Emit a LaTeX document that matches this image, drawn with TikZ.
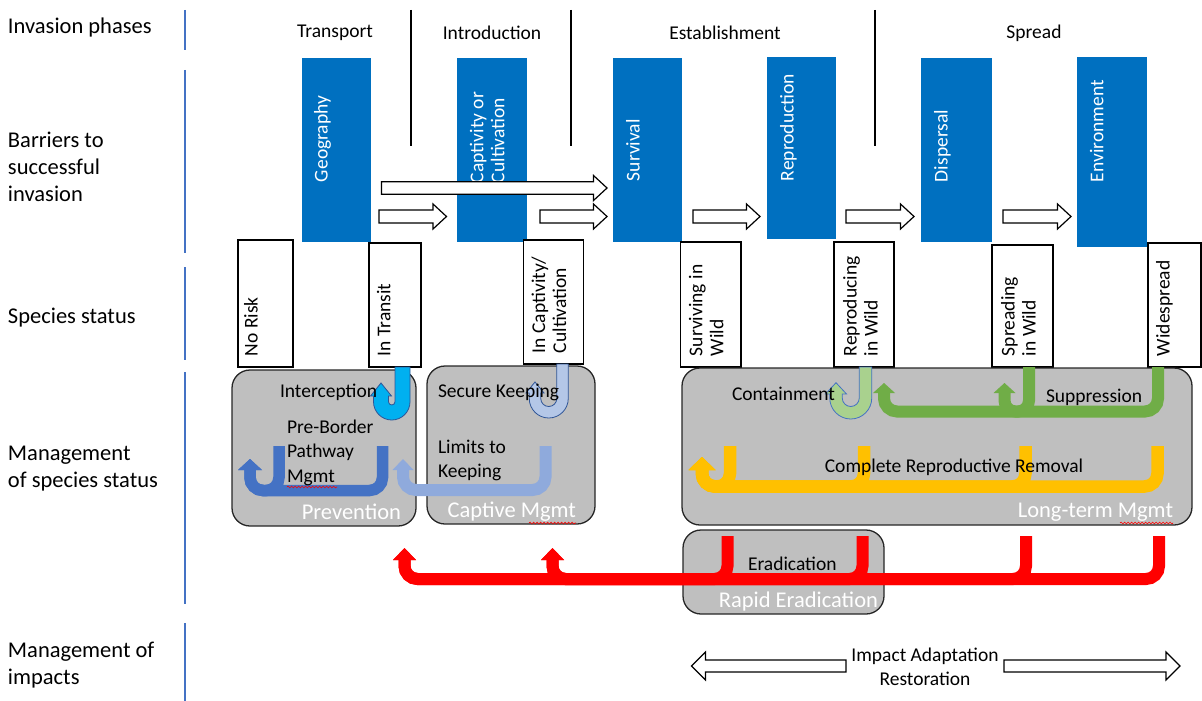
\documentclass[tikz,border=0pt]{standalone}
\usepackage{fontspec}
\setmainfont{Carlito}
\usetikzlibrary{arrows.meta,decorations.pathmorphing}
\definecolor{barblue}{HTML}{0070C0}
\definecolor{lineblue}{HTML}{4472C4}
\definecolor{mgray}{HTML}{BFBFBF}
\definecolor{cyanb}{HTML}{00B0F0}
\definecolor{dblue}{HTML}{4472C4}
\definecolor{pblue}{HTML}{8FAADC}
\definecolor{sblue}{HTML}{B4C7E7}
\definecolor{lgreen}{HTML}{A9D18E}
\definecolor{ggreen}{HTML}{70AD47}
\definecolor{yel}{HTML}{FFC000}
\definecolor{outl}{HTML}{2F5597}
\definecolor{rred}{HTML}{FF0000}

\newcommand\mkbox[6]{%
  \node[#2, minimum width={#5-#3}, minimum height={#6-#4}] (#1) at ({(#3+#5)/2},{(#4+#6)/2}) {};}
% x1, xtip, ycenter, body half height
\newcommand\warrow[4]{%
  \draw[warr] (#1,#3-#4) -- (#2-13.5,#3-#4) -- (#2-13.5,#3-12.5) -- (#2,#3) -- (#2-13.5,#3+12.5) -- (#2-13.5,#3+#4) -- (#1,#3+#4) -- cycle;}
% xr, xl, ytop, width, ybottom(outer), yheadbase, ytip, headhalf, style
\newcommand\uarrow[9]{%
  \pgfmathsetmacro\ur{(#1-#2)/2}%
  \pgfmathsetmacro\uro{\ur+#4/2}%
  \pgfmathsetmacro\uri{\ur-#4/2}%
  \pgfmathsetmacro\uyc{#5-\uro}%
  \draw[#9] (#1+#4/2,#3) -- (#1+#4/2,\uyc) arc[start angle=0,end angle=180,radius=\uro]
    -- (#2-#4/2,#6) -- (#2-#8,#6) -- (#2,#7) -- (#2+#8,#6) -- (#2+#4/2,#6)
    -- (#2+#4/2,\uyc) arc[start angle=180,end angle=0,radius=\uri] -- (#1-#4/2,#3) -- cycle;}

\begin{document}
\begin{tikzpicture}[x=1pt,y=-1pt,
  every node/.style={inner sep=0pt, outer sep=0pt, font=\fontsize{19.5}{24}\selectfont},
  big/.style={font=\fontsize{22.5}{27}\selectfont},
  rowlabel/.style={big, anchor=west, align=left},
  sep/.style={line width=1.5pt, lineblue},
  phsep/.style={line width=1.2pt, black},
  barrier/.style={fill=barblue, draw=none},
  btext/.style={white, rotate=90, anchor=north west, align=left, font=\fontsize{19.5}{21}\selectfont},
  status/.style={draw=black, fill=white, line width=1.2pt},
  stext/.style={rotate=90, anchor=north west, align=left, font=\fontsize{19.5}{21}\selectfont},
  mgmt/.style={draw=black!85, fill=mgray, line width=1.3pt, rounded corners=18pt},
  wlabel/.style={big, white, anchor=east},
  warr/.style={draw=black, fill=white, line width=1.2pt},
  flow/.style={line width=12pt, rounded corners=13pt},
  tipB/.style={-{Triangle[width=24pt,length=11pt,line width=0pt]}},
  tipP/.style={-{Triangle[width=21pt,length=11pt,line width=0pt]}},
  tipG/.style={-{Triangle[width=22pt,length=10pt,line width=0pt]}},
  tipY/.style={-{Triangle[width=27pt,length=13pt,line width=0pt]}},
  tipR/.style={-{Triangle[width=23pt,length=12pt,line width=0pt]}},
  squig/.style={rred, line width=0.6pt, decorate, decoration={snake, amplitude=0.9pt, segment length=3.5pt}},
  ushape/.style={line width=0.8pt}
]
\useasboundingbox (0,0) rectangle (1202,701);

% row labels
\node[rowlabel] (lab1) at (8,28) {Invasion phases};
\node[rowlabel] (lab2) at (8,167) {Barriers to\\successful\\invasion};
\node[rowlabel] (lab3) at (8,318) {Species status};
\node[rowlabel] (lab4) at (8,469) {Management\\of species status};
\node[rowlabel] (lab5) at (8,665.5) {Management of\\impacts};

% blue row separators
\draw[sep] (185,10) -- (185,50);
\draw[sep] (185,70) -- (185,253);
\draw[sep] (185,267) -- (185,360);
\draw[sep] (185,372) -- (185,604);
\draw[sep] (185,623) -- (185,701);

% phases
\node (ph1) at (335,33) {Transport};
\node (ph2) at (492,33) {Introduction};
\node (ph3) at (725,33) {Establishment};
\node (ph4) at (1034,33) {Spread};
\draw[phsep] (411,10) -- (411,146);
\draw[phsep] (571,10) -- (571,146);
\draw[phsep] (875,10) -- (875,146);

% barriers
\mkbox{geo}{barrier}{302}{58}{371}{242}
\mkbox{capt}{barrier}{457}{58}{527}{242}
\mkbox{surv}{barrier}{613}{58}{682}{242}
\mkbox{repr}{barrier}{767}{57}{836}{239}
\mkbox{disp}{barrier}{921}{58}{992}{242}
\mkbox{envi}{barrier}{1077}{57}{1147}{247}
\node[btext] at (314,182) {Geography};
\node[btext] at (470,183) {Captivity or\\Cultivation};
\node[btext] at (626,181) {Survival};
\node[btext] at (780,181) {Reproduction};
\node[btext] at (934,182) {Dispersal};
\node[btext] at (1090,182) {Environment};

% white arrows between barriers
\warrow{381.5}{607}{188}{6.3}
\warrow{379}{446.5}{216.5}{6.5}
\warrow{540}{607}{216.5}{6.5}
\warrow{693}{760}{216.5}{6.5}
\warrow{846}{914}{216.5}{6.5}
\warrow{1003}{1071}{216.5}{6.5}

% species status
\mkbox{norisk}{status}{238}{240}{293}{367}
\mkbox{transit}{status}{369}{243}{421}{367}
\mkbox{incapt}{status}{523.5}{240}{583.5}{364}
\mkbox{survw}{status}{680.5}{242}{741}{367}
\mkbox{reprw}{status}{834}{242}{894}{367}
\mkbox{sprw}{status}{992}{245}{1053}{367}
\mkbox{wides}{status}{1148}{243}{1201}{367}
\node[stext] at (244,356) {No Risk};
\node[stext] at (377,356) {In Transit};
\node[stext] at (531.5,353) {In Captivity/\\Cultivation};
\node[stext] at (689,356) {Surviving in\\Wild};
\node[stext] at (843,356) {Reproducing\\in Wild};
\node[stext] at (1001,356) {Spreading\\in Wild};
\node[stext] at (1156,356) {Widespread};

% management boxes
\mkbox{prev}{mgmt}{232}{370}{416}{526}
\mkbox{captm}{mgmt}{427}{366}{595}{524}
\mkbox{lterm}{mgmt}{682}{368}{1192}{525}
\mkbox{rapid}{mgmt}{683}{530}{884}{614}

% flow arrows
\draw[flow, dblue, line width=11.5pt, tipB] (382.5,446) -- (382.5,490.5) -- (250,490.5) -- (250,459);
\draw[flow, dblue, line width=11.5pt, tipB] (279,446) -- (279,490.5) -- (250,490.5) -- (250,459);
\draw[flow, pblue, tipP] (545.5,446) -- (545.5,490) -- (403,490) -- (403,459);
\draw[flow, ggreen, tipG] (1158,367) -- (1158,411.5) -- (884,411.5) -- (884,383);
\draw[flow, ggreen, rounded corners=11pt, tipG] (1029,367) -- (1029,411.5) -- (1004.5,411.5) -- (1004.5,383);
\foreach \sx in {730,864,1025.5,1157.5}
  \draw[flow, yel, line width=12.5pt, tipY] (\sx,446) -- (\sx,486.5) -- (702,486.5) -- (702,457);
\draw[flow, rred, tipR] (727.5,536) -- (727.5,579) -- (404.5,579) -- (404.5,548);
\draw[flow, rred, tipR] (862.5,536) -- (862.5,579) -- (404.5,579) -- (404.5,548);
\draw[flow, rred, tipR] (1026,536) -- (1026,579) -- (552.5,579) -- (552.5,548);
\draw[flow, rred, tipR] (1159,536) -- (1159,579) -- (552.5,579) -- (552.5,548);

% U-turn arrows
\uarrow{402.5}{381}{367}{15}{420}{396}{383}{10.5}{ushape, fill=cyanb, draw=outl}
\uarrow{562.5}{535}{364}{11.5}{418}{393}{382}{9}{ushape, fill=sblue, draw=outl}
\uarrow{865.5}{836}{367}{12.5}{419}{394}{382.7}{10.5}{ushape, fill=lgreen, draw=dblue}

% management texts
\node[anchor=west] (tint) at (280,392) {Interception};
\node[anchor=west, align=left, font=\fontsize{19.5}{24.5}\selectfont] (tpre) at (287,452.5) {Pre-Border\\Pathway\\Mgmt};
\node[anchor=west] (tsec) at (438,392) {Secure Keeping};
\node[anchor=west, align=left] (tlim) at (438,460) {Limits to\\Keeping};
\node[anchor=west] (tcont) at (732,394) {Containment};
\node[anchor=west] (tsup) at (1046,397) {Suppression};
\node (tcrr) at (954,467) {Complete Reproductive Removal};
\node[anchor=west] (terad) at (748,564) {Eradication};
\node[wlabel] (wprev) at (401,512) {Prevention};
\node[wlabel] (wcapt) at (576,512) {Captive Mgmt};
\node[wlabel] (wlong) at (1173,512) {Long-term Mgmt};
\node[wlabel] (wrapid) at (878,601) {Rapid Eradication};

% spell-check squiggles
\draw[squig] (287,487) -- (337,487);
\draw[squig] (529,523) -- (576,523);
\draw[squig] (1120,523) -- (1173,523);

% impacts
\draw[warr] (846,660) -- (705.5,660) -- (705.5,652) -- (691.5,666) -- (705.5,680) -- (705.5,672) -- (846,672) -- cycle;
\draw[warr] (1004,660) -- (1166,660) -- (1166,652) -- (1180,666) -- (1166,680) -- (1166,672) -- (1004,672) -- cycle;
\node[align=center] (imp) at (925,667) {Impact Adaptation\\Restoration};
\end{tikzpicture}
\end{document}
